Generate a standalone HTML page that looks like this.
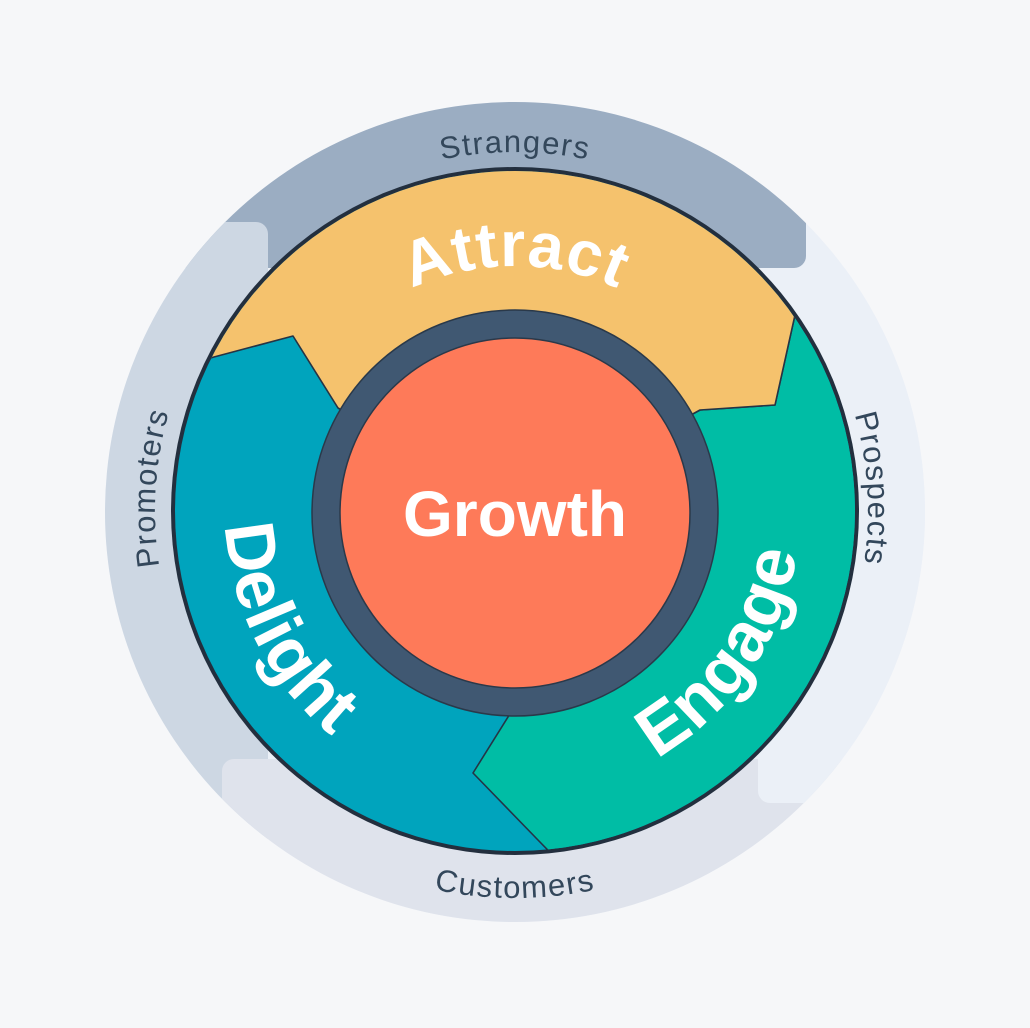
<!DOCTYPE html>
<html><head><meta charset="utf-8"><style>
html,body{margin:0;padding:0;background:#f6f7f9;}
svg{display:block}
</style></head><body>
<svg width="1030" height="1028" viewBox="0 0 1030 1028" xmlns="http://www.w3.org/2000/svg">
<defs>
<clipPath id="outer"><circle cx="515" cy="512" r="410"/></clipPath>
<clipPath id="inner"><circle cx="515" cy="511" r="340"/></clipPath>
<path id="pStr" d="M 156,511 A 359 359 0 0 1 874,511"/>
<path id="pCus" d="M 128,511 A 387 387 0 0 0 902,511"/>
<path id="pPro" d="M 515,871 A 360 360 0 0 1 515,151"/>
<path id="pPros" d="M 515,158 A 353 353 0 0 1 515,864"/>
<path id="pAtt" d="M 270,511 A 245 245 0 0 1 760,511"/>
<path id="pDel" d="M 515,221 A 290 290 0 0 0 515,801"/>
<path id="pEng" d="M 515,796 A 285 285 0 0 0 515,226"/>
</defs>
<rect width="1030" height="1028" fill="#f6f7f9"/>
<g clip-path="url(#outer)">
  <rect width="1030" height="1028" fill="#ebf0f7"/>
  <rect x="-20" y="-20" width="826" height="288" rx="12" fill="#9badc2"/>
  <rect x="-20" y="222" width="288" height="800" rx="12" fill="#cdd7e3"/>
  <rect x="222" y="759" width="820" height="300" rx="12" fill="#dfe3ec"/>
  <rect x="758" y="268" width="300" height="535" rx="12" fill="#ebf0f7"/>
  <rect x="758" y="268" width="300" height="40" fill="#ebf0f7"/>
  <rect x="1000" y="268" width="60" height="535" fill="#ebf0f7"/>
</g>
<circle cx="515" cy="511" r="344" fill="#232f3e"/>
<g clip-path="url(#inner)">
  <rect x="150" y="150" width="730" height="730" fill="#00a4bd"/>
  <path d="M515,511 L700,410 L775,405 L805,270 L1000,270 L1000,1000 L600,1000 L580,883 L537,839 L473,773 L513,709 Z" fill="#00bda5" stroke="#253445" stroke-width="1.6" stroke-linejoin="round"/>
  <path d="M515,511 L338,408 L293,336 L214,357 L100,390 L100,100 L900,100 L805,270 L775,405 L700,410 Z" fill="#f5c26d" stroke="#253445" stroke-width="1.6" stroke-linejoin="round"/>
</g>
<circle cx="515" cy="513" r="203" fill="#405872" stroke="#2a394a" stroke-width="1.5"/>
<circle cx="515" cy="513" r="175" fill="#fe7a59" stroke="#2a394a" stroke-width="1.5"/>
<text x="515" y="536" text-anchor="middle" font-family="Liberation Sans, sans-serif" font-weight="bold" font-size="64" fill="#ffffff">Growth</text>
<g font-family="Liberation Sans, sans-serif" font-weight="bold" fill="#ffffff">
  <text font-size="64" letter-spacing="1"><textPath href="#pAtt" startOffset="50%" text-anchor="middle">Attract</textPath></text>
  <text font-size="70" letter-spacing="1"><textPath href="#pDel" startOffset="65%" text-anchor="middle">Delight</textPath></text>
  <text font-size="70" letter-spacing="1"><textPath href="#pEng" startOffset="31%" text-anchor="middle">Engage</textPath></text>
</g>
<g font-family="Liberation Sans, sans-serif" font-size="31" fill="#33475b" letter-spacing="1.5">
  <text><textPath href="#pStr" startOffset="50%" text-anchor="middle">Strangers</textPath></text>
  <text><textPath href="#pCus" startOffset="50%" text-anchor="middle">Customers</textPath></text>
  <text><textPath href="#pPro" startOffset="52%" text-anchor="middle">Promoters</textPath></text>
  <text><textPath href="#pPros" startOffset="48%" text-anchor="middle">Prospects</textPath></text>
</g>
</svg>
</body></html>
